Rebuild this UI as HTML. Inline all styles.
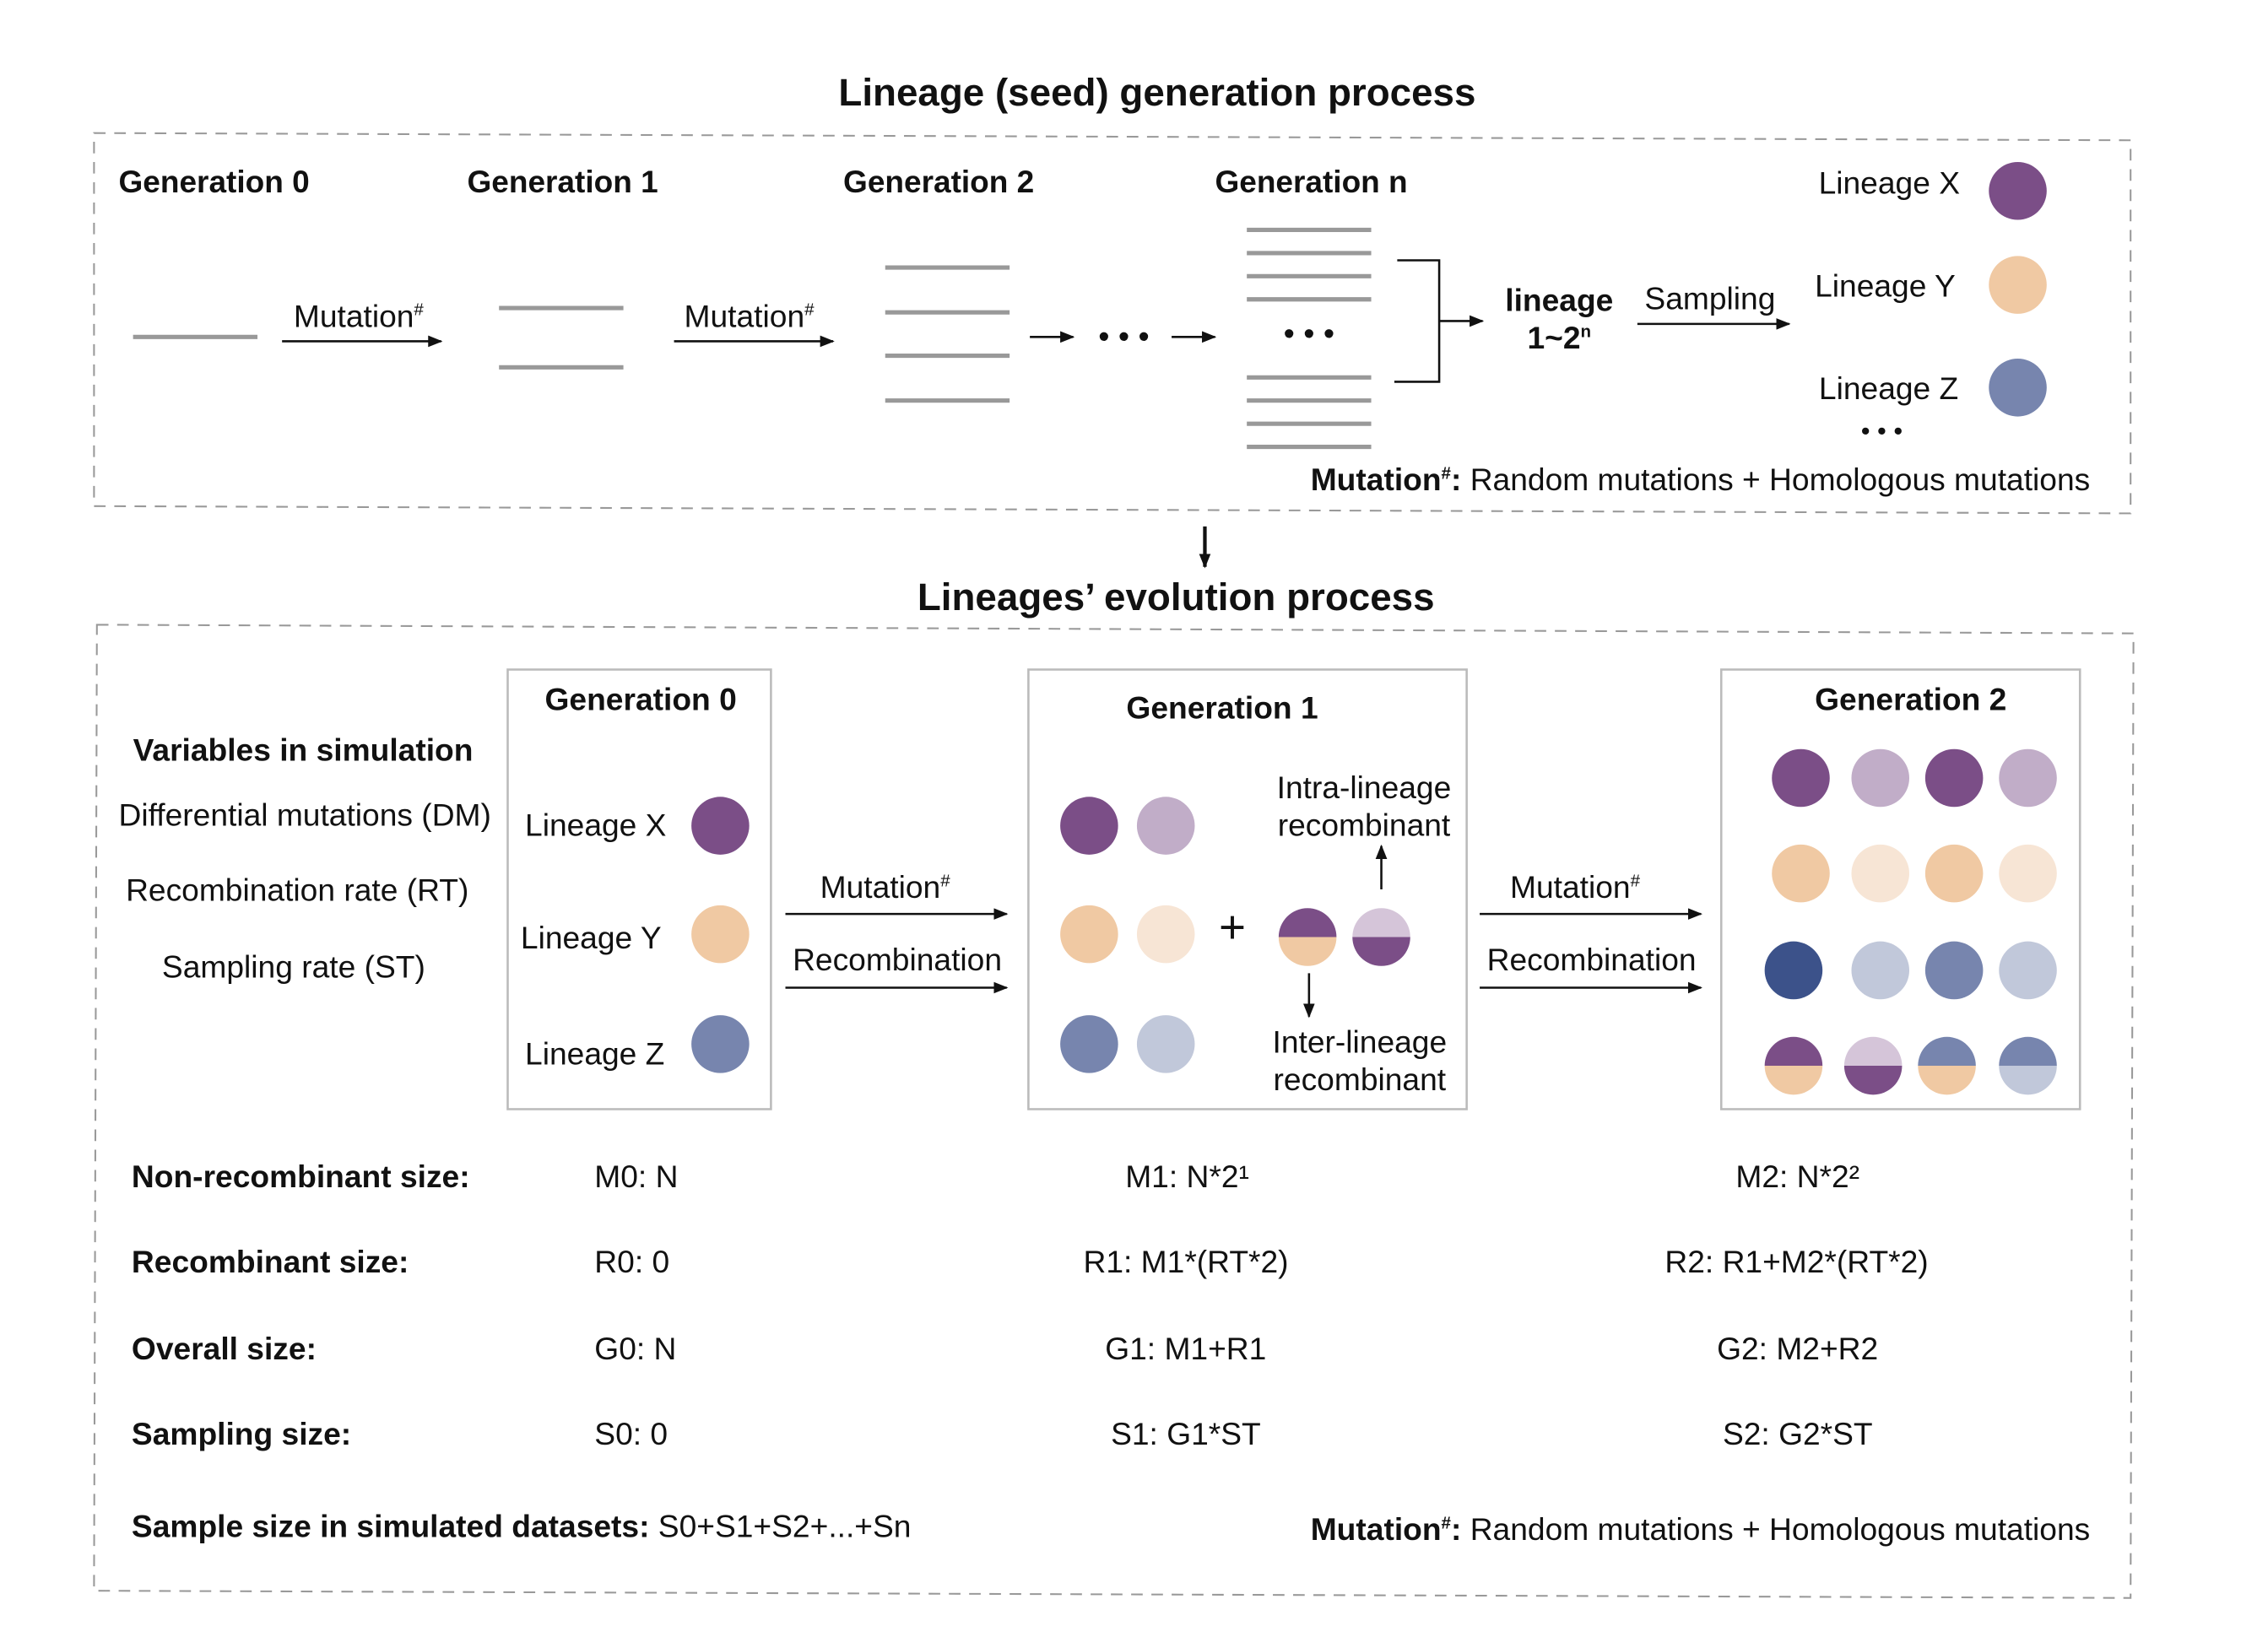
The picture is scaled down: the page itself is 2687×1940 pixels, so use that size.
<!DOCTYPE html>
<html><head><meta charset="utf-8"><style>
html,body{margin:0;padding:0;background:#fff;}
svg{display:block;}
text{font-family:"Liberation Sans",Arial,sans-serif;fill:#111;}
.b{font-weight:bold;}
</style></head><body>
<svg width="2687" height="1940" viewBox="0 0 1568 1132" preserveAspectRatio="none" xmlns="http://www.w3.org/2000/svg">
<defs>
<marker id="ah" markerWidth="10" markerHeight="8" refX="9" refY="4" orient="auto" markerUnits="userSpaceOnUse"><path d="M0,0 L10,4 L0,8 z" fill="#111"/></marker>
</defs>
<rect width="1568" height="1132" fill="#fff"/>
<text class="b" x="800" y="73" font-size="26.7" text-anchor="middle">Lineage (seed) generation process</text>
<polygon points="65,92 1473,97 1473,355 65,350" fill="none" stroke="#999" stroke-width="1.2" stroke-dasharray="8,6"/>
<g font-size="21.6" class="b">
<text x="82" y="133">Generation 0</text>
<text x="323" y="133">Generation 1</text>
<text x="583" y="133">Generation 2</text>
<text x="840" y="133">Generation n</text>
</g>
<g stroke="#999" stroke-width="3">
<line x1="92" y1="233" x2="178" y2="233"/>
<line x1="345" y1="213" x2="431" y2="213"/><line x1="345" y1="254" x2="431" y2="254"/>
<line x1="612" y1="185" x2="698" y2="185"/><line x1="612" y1="216" x2="698" y2="216"/><line x1="612" y1="246" x2="698" y2="246"/><line x1="612" y1="277" x2="698" y2="277"/>
<line x1="862" y1="159" x2="948" y2="159"/><line x1="862" y1="175" x2="948" y2="175"/><line x1="862" y1="191" x2="948" y2="191"/><line x1="862" y1="207" x2="948" y2="207"/>
<line x1="862" y1="261" x2="948" y2="261"/><line x1="862" y1="277" x2="948" y2="277"/><line x1="862" y1="293" x2="948" y2="293"/><line x1="862" y1="309" x2="948" y2="309"/>
</g>
<text x="905" y="238" font-size="22" text-anchor="middle">• • •</text>
<g stroke="#111" stroke-width="1.5" fill="none">
<line x1="195" y1="236" x2="305" y2="236" marker-end="url(#ah)"/>
<line x1="466" y1="236" x2="576" y2="236" marker-end="url(#ah)"/>
<line x1="712" y1="233" x2="742" y2="233" marker-end="url(#ah)"/>
<line x1="810" y1="233" x2="840" y2="233" marker-end="url(#ah)"/>
<polyline points="966,180 995,180 995,264 964,264"/>
<line x1="995" y1="222" x2="1025" y2="222" marker-end="url(#ah)"/>
<line x1="1132" y1="224" x2="1237" y2="224" marker-end="url(#ah)"/>
<line x1="833" y1="364" x2="833" y2="392" stroke-width="2.5" marker-end="url(#ah)"/>
</g>
<text x="777" y="240" font-size="22" text-anchor="middle">• • •</text>
<g font-size="21.7">
<text x="203" y="226">Mutation<tspan font-size="12" dy="-8">#</tspan></text>
<text x="473" y="226">Mutation<tspan font-size="12" dy="-8">#</tspan></text>
<text class="b" x="1078" y="215" text-anchor="middle">lineage</text>
<text class="b" x="1078" y="241" text-anchor="middle">1~2<tspan font-size="12" dy="-8">n</tspan></text>
<text x="1137" y="214">Sampling</text>
<text x="1355" y="134" text-anchor="end">Lineage X</text>
<text x="1352" y="205" text-anchor="end">Lineage Y</text>
<text x="1354" y="276" text-anchor="end">Lineage Z</text>
<text x="1445" y="339" text-anchor="end"><tspan class="b">Mutation</tspan><tspan class="b" font-size="12" dy="-8">#</tspan><tspan class="b" dy="8">:</tspan> Random mutations + Homologous mutations</text>
</g>
<circle cx="1395" cy="132" r="20" fill="#7b4e87"/>
<circle cx="1395" cy="197" r="20" fill="#f0c9a3"/>
<circle cx="1395" cy="268" r="20" fill="#7785ae"/>
<text x="1301" y="304" font-size="18" text-anchor="middle">• • •</text>

<text class="b" x="813" y="422" font-size="26.7" text-anchor="middle">Lineages’ evolution process</text>
<polygon points="67,432 1475,438 1473,1105 65,1100" fill="none" stroke="#999" stroke-width="1.2" stroke-dasharray="8,6"/>
<g font-size="21.7">
<text class="b" x="92" y="526">Variables in simulation</text>
<text x="82" y="571">Differential mutations (DM)</text>
<text x="87" y="623">Recombination rate (RT)</text>
<text x="112" y="676">Sampling rate (ST)</text>
</g>
<g fill="#fff" stroke="#bbb" stroke-width="1.5">
<rect x="351" y="463" width="182" height="304"/>
<rect x="711" y="463" width="303" height="304"/>
<rect x="1190" y="463" width="248" height="304"/>
</g>
<g font-size="21.7">
<text class="b" x="443" y="491" text-anchor="middle">Generation 0</text>
<text class="b" x="845" y="497" text-anchor="middle">Generation 1</text>
<text class="b" x="1321" y="491" text-anchor="middle">Generation 2</text>
<text x="363" y="578">Lineage X</text>
<text x="360" y="656">Lineage Y</text>
<text x="363" y="736">Lineage Z</text>
<text x="567" y="621">Mutation<tspan font-size="12" dy="-8">#</tspan></text>
<text x="548" y="671">Recombination</text>
<text x="1044" y="621">Mutation<tspan font-size="12" dy="-8">#</tspan></text>
<text x="1028" y="671">Recombination</text>
<text x="943" y="552" text-anchor="middle">Intra-lineage</text>
<text x="943" y="578" text-anchor="middle">recombinant</text>
<text x="940" y="728" text-anchor="middle">Inter-lineage</text>
<text x="940" y="754" text-anchor="middle">recombinant</text>
<text x="852" y="652" font-size="32" text-anchor="middle">+</text>
</g>
<g stroke="#111" stroke-width="1.5">
<line x1="543" y1="632" x2="696" y2="632" marker-end="url(#ah)"/>
<line x1="543" y1="683" x2="696" y2="683" marker-end="url(#ah)"/>
<line x1="1023" y1="632" x2="1176" y2="632" marker-end="url(#ah)"/>
<line x1="1023" y1="683" x2="1176" y2="683" marker-end="url(#ah)"/>
<line x1="955" y1="615" x2="955" y2="585" marker-end="url(#ah)"/>
<line x1="905" y1="673" x2="905" y2="703" marker-end="url(#ah)"/>
</g>
<g id="dots"></g>
<g font-size="21.7">
<text class="b" x="91" y="821">Non-recombinant size:</text>
<text class="b" x="91" y="880">Recombinant size:</text>
<text class="b" x="91" y="940">Overall size:</text>
<text class="b" x="91" y="999">Sampling size:</text>
<text x="411" y="821">M0: N</text>
<text x="411" y="880">R0: 0</text>
<text x="411" y="940">G0: N</text>
<text x="411" y="999">S0: 0</text>
<text x="778" y="821">M1: N*2¹</text>
<text x="749" y="880">R1: M1*(RT*2)</text>
<text x="764" y="940">G1: M1+R1</text>
<text x="768" y="999">S1: G1*ST</text>
<text x="1200" y="821">M2: N*2²</text>
<text x="1151" y="880">R2: R1+M2*(RT*2)</text>
<text x="1187" y="940">G2: M2+R2</text>
<text x="1191" y="999">S2: G2*ST</text>
<text x="91" y="1063"><tspan class="b">Sample size in simulated datasets:</tspan> S0+S1+S2+...+Sn</text>
<text x="1445" y="1065" text-anchor="end"><tspan class="b">Mutation</tspan><tspan class="b" font-size="12" dy="-8">#</tspan><tspan class="b" dy="8">:</tspan> Random mutations + Homologous mutations</text>
</g>
</svg>
<script>
const P='#7b4e87',LP='#c1adc8',LP2='#d5c5d9',O='#f0c9a3',LO='#f7e5d5',DB='#3c528a',B='#7785ae',LB='#c1c8da';
const fullDots=[[498,571,P],[498,646,O],[498,722,B],
[753,571,P],[806,571,LP],[753,646,O],[806,646,LO],[753,722,B],[806,722,LB],
[1245,538,P],[1300,538,LP],[1351,538,P],[1402,538,LP],
[1245,604,O],[1300,604,LO],[1351,604,O],[1402,604,LO],
[1240,671,DB],[1300,671,LB],[1351,671,B],[1402,671,LB]];
const halfDots=[[904,648,P,O],[955,648,LP2,P],[1240,737,P,O],[1295,737,LP2,P],[1346,737,B,O],[1402,737,B,LB]];
const g=document.getElementById('dots');
const ns='http://www.w3.org/2000/svg';
const R=20;
fullDots.forEach(d=>{
 const c=document.createElementNS(ns,'circle');
 c.setAttribute('cx',d[0]);c.setAttribute('cy',d[1]);c.setAttribute('r',R);c.setAttribute('fill',d[2]);
 
 
 g.appendChild(c);
});
halfDots.forEach(d=>{
 const [x,y,t,b]=d;
 const top=document.createElementNS(ns,'path');
 top.setAttribute('d',`M${x-R},${y} A${R},${R} 0 0 1 ${x+R},${y} Z`);top.setAttribute('fill',t);
 
 
 const bot=document.createElementNS(ns,'path');
 bot.setAttribute('d',`M${x-R},${y} A${R},${R} 0 0 0 ${x+R},${y} Z`);bot.setAttribute('fill',b);
 
 
 g.appendChild(top);g.appendChild(bot);
});
</script>
</body></html>
